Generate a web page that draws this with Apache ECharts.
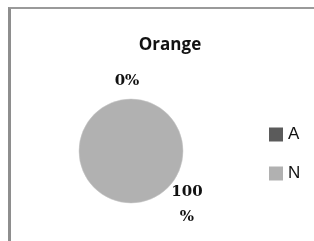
<!DOCTYPE html>
<html>
<head>
<meta charset="utf-8">
<script src="https://cdn.jsdelivr.net/npm/echarts@6/dist/echarts.min.js"></script>
<style>
  html, body { margin: 0; padding: 0; background: #fff; }
  #frame {
    position: absolute; left: 8px; top: 7px; width: 320px; height: 250px;
    border-left: 3px solid #8e8e8e; border-top: 2px solid #9a9a9a; box-sizing: border-box;
  }
  #chart { position: absolute; left: 0; top: 0; width: 314px; height: 241px; }
</style>
</head>
<body>
<div id="frame"></div>
<div id="chart"></div>
<script>
// data
const categories = ["A", "N"];
const values = [0, 100];
const colors = ["#5b5b5b", "#b1b1b1"];

const chart = echarts.init(document.getElementById("chart"));

chart.setOption({
  animation: false,
  title: {
    text: "Orange",
    left: 165,
    textAlign: "center",
    top: 32,
    textStyle: { fontFamily: "Open Sans", fontWeight: "bold", fontSize: 17, color: "#111" }
  },
  legend: {
    orient: "vertical",
    left: 264,
    top: 121,
    itemWidth: 14,
    itemHeight: 14,
    itemGap: 22,
    icon: "rect",
    data: categories,
    itemStyle: { borderWidth: 0 },
    textStyle: { fontFamily: "Liberation Sans", fontSize: 17, color: "#111" }
  },
  series: [
    {
      type: "pie",
      center: [131, 151],
      radius: 52,
      startAngle: 90,
      clockwise: true,
      stillShowZeroSum: true,
      color: colors,
      itemStyle: { borderColor: "#c8c8c8", borderWidth: 0.5 },
      label: {
        show: true,
        position: "outside",
        fontFamily: "DejaVu Serif",
        fontWeight: "bold",
        fontSize: 15,
        lineHeight: 25,
        color: "#111",
        align: "center",
        formatter: p => (p.value === 100 ? "100\n%" : p.value + "%")
      },
      labelLine: { show: false },
      labelLayout: p => {
        if (p.dataIndex === 0) return { x: 127, y: 81, align: "center", verticalAlign: "middle" };
        return { x: 187, y: 205, align: "center", verticalAlign: "middle" };
      },
      emphasis: { disabled: true },
      data: categories.map((c, i) => ({ name: c, value: values[i] }))
    }
  ]
});
</script>
</body>
</html>
